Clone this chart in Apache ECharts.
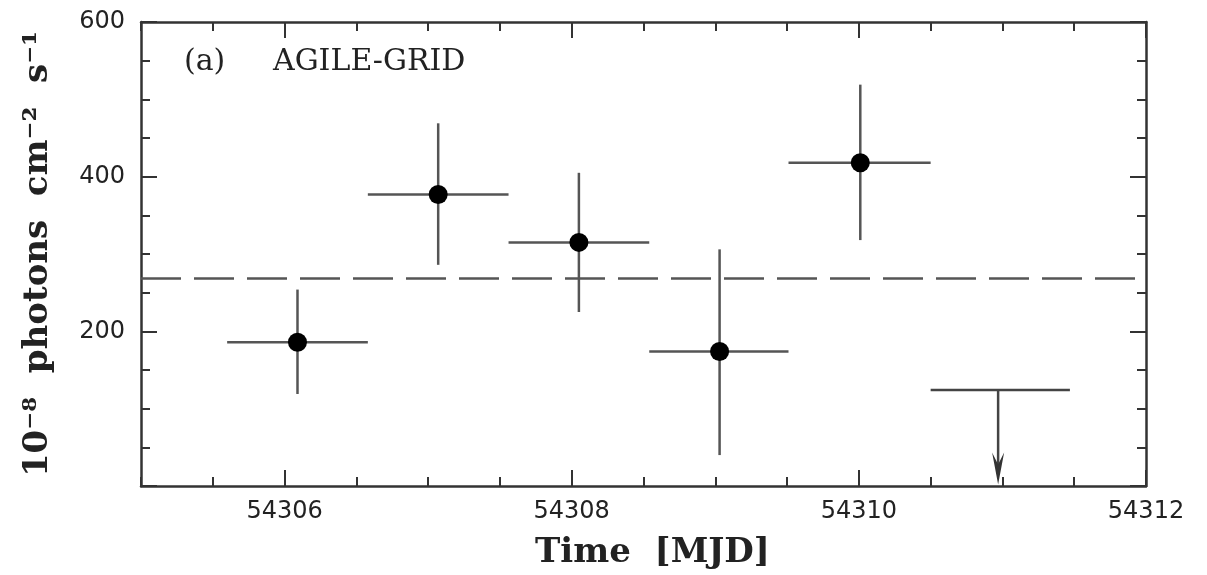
<!DOCTYPE html>
<html>
<head>
    <meta charset="utf-8">
    <title>AGILE-GRID light curve</title>
    <script src="https://cdn.jsdelivr.net/npm/echarts@6/dist/echarts.min.js"></script>
    <style>
        html, body { margin: 0; padding: 0; background: #fff; }
        #main { width: 1207px; height: 575px; }
    </style>
</head>
<body>
<div id="main"></div>
<script type="text/javascript">
    // 数据：AGILE-GRID 光变曲线 (MJD, 10^-8 photons cm^-2 s^-1)
    var mjd    = [54306.09, 54307.07, 54308.05, 54309.03, 54310.01];
    var flux   = [186, 377, 315, 174, 418];
    var binLo  = [54305.60, 54306.58, 54307.56, 54308.54, 54309.51];
    var binHi  = [54306.58, 54307.56, 54308.54, 54309.51, 54310.50];
    var fluxLo = [119, 286, 225, 40, 318];
    var fluxHi = [254, 469, 405, 306, 519];

    // 上限
    var ulBin = [54310.50, 54311.47];
    var ulMjd = 54310.97;
    var ulFlux = 124;
    var ulArrowTo = 2;

    // 平均流量（虚线）
    var meanFlux = 269;

    var xTicks = [54306, 54308, 54310, 54312];
    var yTicks = [200, 400, 600];

    var axisColor = '#333';
    var barColor = '#555';

    var myChart = echarts.init(document.getElementById('main'));

    var errData = [];
    for (var i = 0; i < mjd.length; i++) {
        errData.push([mjd[i], flux[i], binLo[i], binHi[i], fluxLo[i], fluxHi[i]]);
    }
    var pointData = mjd.map(function (m, i) { return [m, flux[i]]; });

    function minorX(pos, showLine) {
        return {
            type: 'value', position: pos, min: 54305, max: 54312, interval: 0.5,
            axisLine: { show: showLine, onZero: false, lineStyle: { color: axisColor, width: 2.5 } },
            axisTick: { show: true, inside: true, length: 9, lineStyle: { color: axisColor, width: 2 } },
            axisLabel: { show: false },
            splitLine: { show: false }
        };
    }
    function majorX(pos, withLabel) {
        return {
            type: 'value', position: pos, min: 54305, max: 54312,
            axisLine: { show: false, onZero: false },
            axisTick: { show: true, inside: true, length: 16, customValues: xTicks,
                lineStyle: { color: axisColor, width: 2 } },
            axisLabel: { show: withLabel, customValues: xTicks, margin: 14,
                fontFamily: 'DejaVu Sans', fontSize: 24, color: '#222',
                formatter: function (v) { return String(v); } },
            splitLine: { show: false },
            name: withLabel ? 'Time  [MJD]' : '',
            nameLocation: 'middle',
            nameGap: 50,
            nameTextStyle: { fontFamily: 'DejaVu Serif', fontWeight: 'bold', fontSize: 34, color: '#222',
                padding: [0, 0, 0, 18] }
        };
    }
    function yAx(pos, withLabel) {
        return {
            type: 'value', position: pos, min: 0, max: 600, interval: 200,
            axisLine: { show: true, onZero: false, lineStyle: { color: axisColor, width: 2.5 } },
            axisTick: { show: true, inside: true, length: 16, lineStyle: { color: axisColor, width: 2 } },
            minorTick: { show: true, splitNumber: 4, length: 9, lineStyle: { color: axisColor, width: 2 } },
            axisLabel: { show: withLabel, customValues: yTicks, margin: 16,
                fontFamily: 'DejaVu Sans', fontSize: 24, color: '#222' },
            splitLine: { show: false },
            name: withLabel ? '10⁻⁸  photons  cm⁻²  s⁻¹' : '',
            nameLocation: 'middle',
            nameRotate: 90,
            nameGap: 86,
            nameTextStyle: { fontFamily: 'DejaVu Serif', fontWeight: 'bold', fontSize: 34, color: '#222' }
        };
    }

    var option = {
        backgroundColor: '#fff',
        animation: false,
        title: {
            text: '(a)     AGILE-GRID',
            left: 179, top: 42,
            textStyle: { fontFamily: 'DejaVu Serif', fontWeight: 'normal', fontSize: 30, color: '#222' }
        },
        grid: { left: 141, right: 61, top: 22, bottom: 89 },
        xAxis: [minorX('bottom', true), majorX('bottom', true), minorX('top', true), majorX('top', false)],
        yAxis: [yAx('left', true), yAx('right', false)],
        series: [
            {
                // 误差棒
                type: 'custom',
                xAxisIndex: 0, yAxisIndex: 0,
                data: errData,
                renderItem: function (params, api) {
                    var c = api.coord([api.value(0), api.value(1)]);
                    var l = api.coord([api.value(2), api.value(1)]);
                    var r = api.coord([api.value(3), api.value(1)]);
                    var lo = api.coord([api.value(0), api.value(4)]);
                    var hi = api.coord([api.value(0), api.value(5)]);
                    var st = { stroke: barColor, lineWidth: 2.5 };
                    return {
                        type: 'group',
                        children: [
                            { type: 'line', shape: { x1: l[0], y1: c[1], x2: r[0], y2: c[1] }, style: st },
                            { type: 'line', shape: { x1: c[0], y1: hi[1], x2: c[0], y2: lo[1] }, style: st }
                        ]
                    };
                },
                z: 2
            },
            {
                type: 'scatter',
                xAxisIndex: 0, yAxisIndex: 0,
                data: pointData,
                symbol: 'circle',
                symbolSize: 19,
                itemStyle: { color: '#000', opacity: 1 },
                z: 5,
                markLine: {
                    silent: true,
                    symbol: ['none', 'none'],
                    label: { show: false },
                    lineStyle: { color: '#555', width: 2.5, type: [40, 13] },
                    data: [{ yAxis: meanFlux }]
                }
            },
            {
                // 上限
                type: 'custom',
                xAxisIndex: 0, yAxisIndex: 0,
                data: [[ulMjd, ulFlux, ulBin[0], ulBin[1], ulArrowTo]],
                renderItem: function (params, api) {
                    var l = api.coord([api.value(2), api.value(1)]);
                    var r = api.coord([api.value(3), api.value(1)]);
                    var top = api.coord([api.value(0), api.value(1)]);
                    var tip = api.coord([api.value(0), api.value(4)]);
                    var st = { stroke: '#444', lineWidth: 2.5 };
                    var headLen = 32, headW = 6;
                    return {
                        type: 'group',
                        children: [
                            { type: 'line', shape: { x1: l[0], y1: l[1], x2: r[0], y2: r[1] }, style: st },
                            { type: 'line', shape: { x1: top[0], y1: top[1], x2: tip[0], y2: tip[1] - 10 }, style: st },
                            { type: 'polygon', shape: { points: [
                                [tip[0], tip[1]],
                                [tip[0] - headW, tip[1] - headLen],
                                [tip[0], tip[1] - headLen + 12],
                                [tip[0] + headW, tip[1] - headLen]
                            ] }, style: { fill: '#333' } }
                        ]
                    };
                },
                z: 2
            }
        ]
    };

    myChart.setOption(option);
</script>
</body>
</html>
